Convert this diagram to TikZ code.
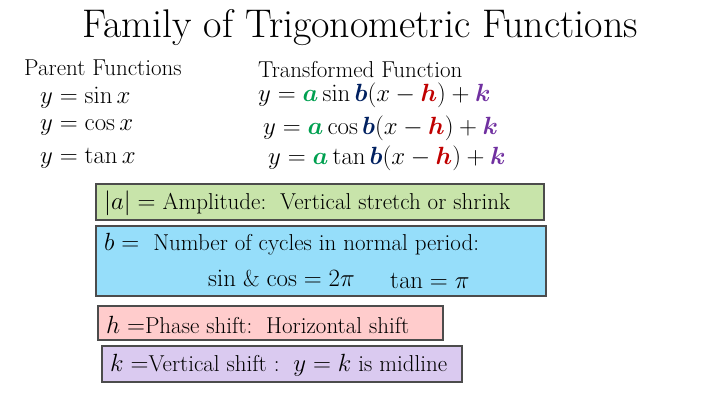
\documentclass[tikz,border=0pt]{standalone}
\usepackage{amsmath}
\definecolor{ca}{RGB}{0,160,80}
\definecolor{cb}{RGB}{0,32,96}
\definecolor{ch}{RGB}{192,0,0}
\definecolor{ck}{RGB}{112,48,160}
\definecolor{fg}{RGB}{200,228,170}
\definecolor{fb}{RGB}{150,222,250}
\definecolor{fp}{RGB}{255,204,204}
\definecolor{fl}{RGB}{218,202,240}
\newcommand{\A}{\boldsymbol{\color{ca}a}}
\newcommand{\B}{\boldsymbol{\color{cb}b}}
\newcommand{\Hh}{\boldsymbol{\color{ch}h}}
\newcommand{\K}{\boldsymbol{\color{ck}k}}
\begin{document}
\begin{tikzpicture}[x=1pt,y=-1pt,
  txt/.style={anchor=west,font=\fontsize{23}{25}\selectfont,inner sep=0},
  eq/.style={anchor=west,font=\fontsize{25}{27}\selectfont,inner sep=0},
  bx/.style={draw=black!70,line width=1.2pt}]
\useasboundingbox (0,0) rectangle (720,405);
\node[font=\fontsize{40}{44}\selectfont] (title) at (360,28) {Family of Trigonometric Functions};
\node[txt] (pf) at (24,68) {Parent Functions};
\node[txt] (tf) at (258,70) {Transformed Function};
\node[eq] (p1) at (40,98) {$y=\sin x$};
\node[eq] (p2) at (40,128) {$y=\cos x$};
\node[eq] (p3) at (40,158) {$y=\tan x$};
\node[eq] (t1) at (258,95) {$y=\A\sin\B(x-\Hh)+\K$};
\node[eq] (t2) at (263,128) {$y=\A\cos\B(x-\Hh)+\K$};
\node[eq] (t3) at (268,158) {$y=\A\tan\B(x-\Hh)+\K$};
\draw[bx,fill=fg] (96,184) rectangle (544,220);
\node[txt] (la) at (104,203) {$|a|=$ Amplitude:\ \ Vertical stretch or shrink};
\draw[bx,fill=fb] (96,226) rectangle (546,296);
\node[txt] (lb) at (104,244) {$b=$\ \ Number of cycles in normal period:};
\node[txt] (lb2) at (208,279) {$\sin$ \& $\cos=2\pi$};
\node[txt] (lb3) at (390,281) {$\tan=\pi$};
\draw[bx,fill=fp] (98,306) rectangle (443,340);
\node[txt] (lh) at (106,325) {$h=$Phase shift:\ \ Horizontal shift};
\draw[bx,fill=fl] (102,346) rectangle (462,382);
\node[txt] (lk) at (110,365) {$k=$Vertical shift :\ \ $y=k$ is midline};
\end{tikzpicture}
\end{document}
